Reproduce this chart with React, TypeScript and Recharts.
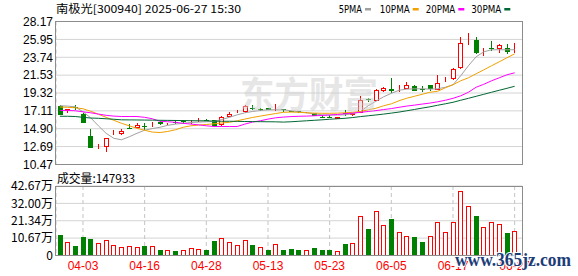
import React from "react";
import { ComposedChart, Bar, Line, XAxis, YAxis, CartesianGrid } from "recharts";

const RED = "#ff0000";
const GREEN = "#008000";

const dates = [
  "03-31", "04-01", "04-02", "04-03", "04-07", "04-08", "04-09", "04-10", "04-11", "04-14",
  "04-15", "04-16", "04-17", "04-18", "04-21", "04-22", "04-23", "04-24", "04-25", "04-28",
  "04-29", "04-30", "05-06", "05-07", "05-08", "05-09", "05-12", "05-13", "05-14", "05-15",
  "05-16", "05-19", "05-20", "05-21", "05-22", "05-23", "05-26", "05-27", "05-28", "05-29",
  "05-30", "06-03", "06-04", "06-05", "06-06", "06-09", "06-10", "06-11", "06-12", "06-13",
  "06-16", "06-17", "06-18", "06-19", "06-20", "06-23", "06-24", "06-25", "06-26", "06-27",
];

const opens = [
  17.74, 17.08, 17.6, 16.75, 14.02, 12.62, 12.63, 14.1, 14.23, 14.93,
  14.98, 15.25, 15.3, 15.72, 15.35, 15.74, 15.8, 15.65, 15.88, 16.0,
  15.95, 15.35, 16.41, 16.82, 16.91, 17.45, 17.38, 17.45, 17.2, 17.28,
  17.05, 17.05, 16.85, 16.83, 16.4, 16.35, 16.15, 16.8, 16.55, 16.91,
  18.6, 18.39, 19.5, 19.84, 19.6, 19.8, 20.21, 19.8, 20.25, 19.72,
  20.92, 21.08, 22.35, 25.7, 25.9, 24.4, 24.85, 24.67, 24.88, 24.68,
];
const highs = [
  17.82, 17.4, 17.8, 16.83, 14.85, 12.99, 13.81, 14.77, 14.88, 15.47,
  15.6, 15.6, 15.67, 15.88, 15.55, 15.92, 16.0, 16.0, 16.21, 16.1,
  16.0, 16.46, 16.96, 17.24, 17.86, 17.86, 17.49, 17.45, 17.95, 17.4,
  17.15, 17.15, 16.97, 16.85, 16.6, 16.6, 16.4, 17.24, 16.85, 19.01,
  18.76, 19.8, 20.05, 21.2, 20.25, 20.62, 20.34, 20.21, 20.34, 21.54,
  21.29, 22.4, 26.31, 26.73, 26.31, 24.88, 25.7, 25.41, 25.41, 25.5,
];
const lows = [
  16.55, 16.83, 17.2, 15.6, 12.58, 12.45, 11.96, 14.1, 14.06, 14.85,
  14.85, 14.77, 15.17, 15.4, 15.3, 15.47, 15.5, 15.47, 15.72, 15.85,
  15.15, 15.26, 16.29, 16.8, 16.83, 17.27, 17.15, 17.18, 17.15, 17.03,
  16.95, 16.83, 16.8, 16.5, 16.25, 16.17, 16.1, 16.42, 16.5, 16.83,
  18.15, 18.32, 19.5, 19.31, 19.5, 19.8, 19.56, 19.5, 19.6, 19.72,
  20.62, 20.95, 22.35, 25.29, 24.17, 23.84, 24.46, 24.26, 24.17, 24.26,
];
const closes = [
  16.62, 17.37, 17.5, 15.67, 12.58, 12.66, 13.74, 14.16, 14.64, 14.86,
  15.39, 15.17, 15.45, 15.42, 15.45, 15.65, 15.72, 15.8, 15.97, 15.92,
  15.2, 16.38, 16.78, 16.86, 17.65, 17.28, 17.33, 17.24, 17.3, 17.22,
  17.0, 16.98, 16.95, 16.5, 16.3, 16.28, 16.35, 16.72, 16.8, 18.48,
  18.45, 19.72, 19.93, 19.63, 19.65, 20.25, 19.63, 19.72, 19.8, 20.55,
  20.95, 22.28, 25.5, 25.8, 24.33, 24.5, 24.75, 25.2, 24.33, 24.75,
];

const ma5 = [
  17.74, 17.7, 17.61, 16.99, 16.25, 15.26, 14.33, 13.71, 13.53, 13.9,
  14.33, 14.71, 14.92, 15.08, 15.32, 15.47, 15.57, 15.67, 15.72, 15.76,
  15.79, 16.04, 16.31, 16.62, 16.87, 17.03, 17.16, 17.24, 17.24, 17.24,
  17.12, 16.99, 16.87, 16.75, 16.62, 16.59, 16.59, 16.62, 16.75, 17.03,
  17.74, 18.3, 18.85, 19.28, 19.66, 19.8, 19.84, 19.84, 19.8, 19.84,
  20.03, 20.34, 21.45, 22.69, 23.8, 24.42, 24.67, 24.67, 24.67, 24.67,
];
const ma10 = [
  17.58, 17.55, 17.49, 17.37, 17.06, 16.69, 16.31, 15.94, 15.57, 15.26,
  14.95, 14.71, 14.48, 14.43, 14.56, 14.77, 15.08, 15.26, 15.35, 15.42,
  15.51, 15.61, 15.69, 15.88, 16.09, 16.29, 16.46, 16.62, 16.78, 16.93,
  16.96, 16.93, 16.87, 16.83, 16.81, 16.81, 16.83, 16.87, 16.93, 17.03,
  17.24, 17.43, 17.74, 17.98, 18.36, 18.67, 18.91, 19.16, 19.41, 19.53,
  19.96, 20.34, 20.83, 21.2, 21.7, 22.19, 22.69, 23.18, 23.68, 24.17,
];
const ma20 = [
  17.16, 17.16, 17.12, 16.99, 16.87, 16.71, 16.56, 16.46, 16.41, 16.41,
  16.41, 16.31, 16.13, 15.82, 15.76, 15.69, 15.57, 15.47, 15.38, 15.26,
  15.17, 15.17, 15.17, 15.17, 15.47, 15.72, 15.88, 16.09, 16.25, 16.34,
  16.4, 16.44, 16.46, 16.5, 16.54, 16.6, 16.66, 16.75, 16.83, 16.93,
  17.03, 17.14, 17.27, 17.39, 17.55, 17.7, 17.82, 17.95, 18.07, 18.23,
  18.42, 18.66, 18.97, 19.41, 20.03, 20.4, 20.83, 21.2, 21.57, 21.82,
];
const ma30 = [
  16.44, 16.44, 16.41, 16.31, 16.22, 16.19, 16.13, 16.07, 16.0, 15.99,
  15.98, 15.97, 15.96, 15.94, 15.93, 15.92, 15.91, 15.89, 15.88, 15.88,
  15.84, 15.82, 15.82, 15.81, 15.79, 15.78, 15.77, 15.76, 15.75, 15.72,
  15.76, 15.82, 15.88, 15.94, 16.0, 16.07, 16.13, 16.19, 16.28, 16.4,
  16.5, 16.6, 16.71, 16.83, 16.96, 17.12, 17.28, 17.45, 17.61, 17.8,
  17.98, 18.17, 18.42, 18.66, 18.91, 19.16, 19.41, 19.66, 19.9, 20.15,
];

const volumes = [
  125000, 82000, 57000, 113000, 100000, 76000, 94000, 63000, 51000, 57000,
  51000, 57000, 57000, 33000, 33000, 27000, 33000, 45000, 39000, 33000,
  88000, 107000, 82000, 63000, 94000, 63000, 51000, 33000, 70000, 33000,
  39000, 33000, 33000, 45000, 33000, 33000, 26000, 70000, 76000, 242000,
  162000, 273000, 187000, 224000, 144000, 119000, 113000, 82000, 119000, 205000,
  144000, 205000, 396000, 304000, 242000, 174000, 205000, 193000, 137000, 147933,
];
// 1 = red (up on the day), 0 = green
const volUp = [
  0, 1, 0, 0, 0, 1, 1, 1, 1, 1,
  1, 0, 1, 0, 1, 0, 1, 1, 1, 0,
  0, 1, 1, 1, 1, 0, 1, 0, 1, 0,
  0, 0, 1, 0, 0, 0, 1, 0, 1, 1,
  0, 1, 1, 0, 1, 1, 0, 0, 1, 1,
  1, 1, 1, 1, 0, 1, 1, 1, 0, 1,
];

const xTicks = ["04-03", "04-16", "04-28", "05-13", "05-23", "06-05", "06-17", "06-27"];
const priceTicks = [10.47, 12.69, 14.9, 17.11, 19.32, 21.53, 23.74, 25.95, 28.17];
const volTicks = [0, 106700, 213400, 320000, 426700];

const legendItems = [
  { name: "5PMA", color: "#a0a0a0" },
  { name: "10PMA", color: "#f0a000" },
  { name: "20PMA", color: "#ff00ff" },
  { name: "30PMA", color: "#006633" },
];

const rows = dates.map((date, i) => ({
  date,
  open: opens[i],
  high: highs[i],
  low: lows[i],
  close: closes[i],
  ma5: ma5[i],
  ma10: ma10[i],
  ma20: ma20[i],
  ma30: ma30[i],
  vol: volumes[i],
  volUp: volUp[i] === 1,
}));

const Candle = (props: any) => {
  const { x, y, width, height, payload } = props;
  if (x == null || y == null) return null;
  const top = Math.min(y, y + height);
  const h = Math.abs(height);
  const { open, close, high, low } = payload;
  const span = high - low || 1;
  const py = (v: number) => top + ((high - v) / span) * h;
  const c = Math.round(x + width / 2);
  const up = close >= open;
  const color = up ? RED : GREEN;
  const yo = py(open);
  const yc = py(close);
  const bTop = Math.round(Math.min(yo, yc));
  const bH = Math.max(Math.round(Math.abs(yo - yc)), 1);
  return (
    <g>
      <line x1={c + 0.5} x2={c + 0.5} y1={Math.round(top)} y2={Math.round(top + h)} stroke={color} strokeWidth={1} />
      {up ? (
        <rect x={c - 1.5} y={bTop + 0.5} width={4} height={Math.max(bH - 1, 0)} fill="#fff" stroke={color} strokeWidth={1} />
      ) : (
        <rect x={c - 2} y={bTop} width={5} height={bH} fill={color} />
      )}
    </g>
  );
};

const VolBar = (props: any) => {
  const { x, y, width, height, payload } = props;
  if (x == null || y == null) return null;
  const c = Math.round(x + width / 2);
  const top = Math.round(Math.min(y, y + height));
  const bottom = Math.round(Math.max(y, y + height));
  if (payload.volUp) {
    return <rect x={c - 1.5} y={top + 0.5} width={4} height={Math.max(bottom - top - 1, 0)} fill="#fff" stroke={RED} strokeWidth={1} />;
  }
  return <rect x={c - 2} y={top} width={5} height={bottom - top} fill={GREEN} />;
};

const tickFont = { fill: "#000", fontSize: 12, fontFamily: "Liberation Sans, Arial, sans-serif" };
const cjkFont = "'Noto Sans CJK SC', 'Liberation Sans', sans-serif";

const fmtVol = (v: number) => (v === 0 ? "0" : (v / 10000).toFixed(2) + "万");

export default function App() {
  return (
    <div style={{ position: "absolute", left: 0, top: 0, width: 578, height: 276, background: "#fff", overflow: "hidden" }}>
      <div style={{ position: "absolute", left: 0, top: 0 }}>
        <ComposedChart width={578} height={176} data={rows} margin={{ top: 21.5, right: 55.5, bottom: 11.5, left: 6 }}>
          <CartesianGrid vertical={false} stroke="#d4d4d4" />
          <CartesianGrid horizontal={false} stroke="#c4c4c4" strokeDasharray="4 3" />
          <XAxis
            dataKey="date"
            ticks={xTicks}
            interval={0}
            padding={{ left: 0, right: 4 }}
            height={0}
            tick={false}
            tickLine={false}
            axisLine={false}
          />
          <YAxis
            domain={[10.47, 28.17]}
            ticks={priceTicks}
            interval={0}
            allowDataOverflow
            width={50}
            tickLine={false}
            axisLine={false}
            tickSize={0}
            tickMargin={3}
            tick={tickFont}
            tickFormatter={(v: number) => v.toFixed(2)}
          />
          <Line dataKey="ma5" stroke="#a0a0a0" strokeWidth={1} dot={false} activeDot={false} isAnimationActive={false} type="linear" />
          <Line dataKey="ma10" stroke="#f0a000" strokeWidth={1} dot={false} activeDot={false} isAnimationActive={false} type="linear" />
          <Line dataKey="ma20" stroke="#ff00ff" strokeWidth={1} dot={false} activeDot={false} isAnimationActive={false} type="linear" />
          <Line dataKey="ma30" stroke="#006633" strokeWidth={1} dot={false} activeDot={false} isAnimationActive={false} type="linear" />
          <Bar
            dataKey={(d: any) => [d.low, d.high]}
            barSize={5}
            shape={(p: any) => <Candle {...p} />}
            isAnimationActive={false}
          />
        </ComposedChart>
      </div>

      <div style={{ position: "absolute", left: 0, top: 170 }}>
        <ComposedChart width={578} height={106} data={rows} margin={{ top: 16, right: 55.5, bottom: 0, left: 6 }}>
          <CartesianGrid vertical={false} stroke="#d4d4d4" />
          <CartesianGrid horizontal={false} stroke="#c4c4c4" strokeDasharray="4 3" />
          <XAxis
            dataKey="date"
            ticks={xTicks}
            interval={0}
            padding={{ left: 0, right: 4 }}
            height={20.5}
            tickLine={false}
            axisLine={false}
            tickSize={0}
            tickMargin={6}
            tick={{ fill: RED, fontSize: 12, fontFamily: "Liberation Sans, Arial, sans-serif" }}
          />
          <YAxis
            domain={[0, 426700]}
            ticks={volTicks}
            interval={0}
            allowDataOverflow
            width={50}
            tickLine={false}
            axisLine={false}
            tickSize={0}
            tickMargin={3}
            tick={{ ...tickFont, fontFamily: cjkFont }}
            tickFormatter={fmtVol}
          />
          <Bar dataKey="vol" barSize={5} shape={(p: any) => <VolBar {...p} />} isAnimationActive={false} />
        </ComposedChart>
      </div>

      <div style={{ position: "absolute", left: 55, top: 21, width: 468, height: 144, border: "1px solid #8c8c8c", boxSizing: "border-box" }} />
      <div style={{ position: "absolute", left: 55, top: 186, width: 468, height: 70, border: "1px solid #8c8c8c", boxSizing: "border-box" }} />

      <svg width={578} height={276} style={{ position: "absolute", left: 0, top: 0, pointerEvents: "none" }}>
        <text x={240} y={108} fontSize={36} fontWeight={700} fontFamily={cjkFont} fill="#cfcfcf" opacity={0.5} textLength={138} lengthAdjust="spacingAndGlyphs">
          东方财富
        </text>
        <text x={56} y={12.5} fontSize={11} fontFamily={cjkFont} fill="#000" textLength={185} lengthAdjust="spacingAndGlyphs">
          南极光[300940] 2025-06-27 15:30
        </text>
        {legendItems.map((item, i) => {
          const starts = [338.7, 379.7, 425.7, 471.3];
          const widths = [23.3, 30, 29.6, 30];
          const sx = starts[i];
          const w = widths[i];
          return (
            <g key={item.name}>
              <text x={sx} y={12.5} fontSize={11} fontFamily="DejaVu Sans, sans-serif" fill="#000" textLength={w} lengthAdjust="spacingAndGlyphs">
                {item.name}
              </text>
              <rect x={sx + w + 3} y={8} width={6} height={2.5} fill={item.color} />
            </g>
          );
        })}
        <text x={57} y={182.5} fontSize={12} fontFamily={cjkFont} fill="#000" textLength={78} lengthAdjust="spacingAndGlyphs">
          成交量:147933
        </text>
        <text
          x={455}
          y={266}
          fontSize={19}
          fontWeight={700}
          fontFamily="Liberation Serif, serif"
          fill="#1c3d78"
          stroke="#fff"
          strokeWidth={2}
          paintOrder="stroke"
          textLength={116}
          lengthAdjust="spacingAndGlyphs"
        >
          www.365jz.com
        </text>
      </svg>
    </div>
  );
}
